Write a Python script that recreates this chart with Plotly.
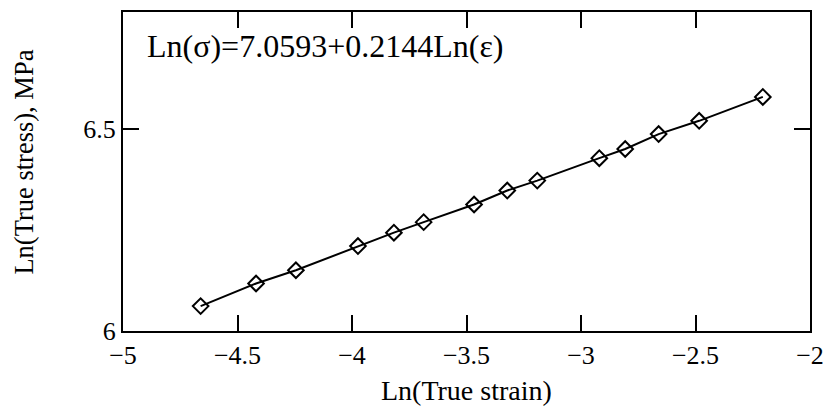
import plotly.graph_objects as go

ln_strain = [-4.661, -4.419, -4.245, -3.974, -3.817, -3.687, -3.467,
             -3.322, -3.191, -2.920, -2.807, -2.661, -2.484, -2.206]
ln_stress = [6.0617, 6.1177, 6.1505, 6.2104, 6.2435, 6.2696, 6.3133,
             6.3478, 6.3725, 6.4280, 6.4507, 6.4877, 6.5205, 6.5797]

x_ticks = [-5, -4.5, -4, -3.5, -3, -2.5, -2]
x_ticktext = ["\u22125", "\u22124.5", "\u22124", "\u22123.5", "\u22123", "\u22122.5", "\u22122"]
y_ticks = [6, 6.5]
y_ticktext = ["6", "6.5"]

equation = "Ln(\u03c3)=7.0593+0.2144Ln(\u03b5)"
x_title = "Ln(True strain)"
y_title = "Ln(True stress), MPa"

FONT = "Liberation Serif, Times New Roman, serif"

fig = go.Figure()
fig.add_trace(go.Scatter(
    x=ln_strain, y=ln_stress, mode="lines+markers",
    line=dict(color="black", width=2),
    marker=dict(symbol="diamond-open", size=12, color="black",
                line=dict(color="black", width=2)),
    showlegend=False,
))

axis_common = dict(
    showline=True, linecolor="black", linewidth=2, mirror="ticks",
    ticks="inside", ticklen=16, tickwidth=2, tickcolor="black",
    showgrid=False, zeroline=False,
    tickfont=dict(family=FONT, size=26, color="black"),
)

fig.update_xaxes(range=[-5, -2], tickvals=x_ticks, ticktext=x_ticktext, **axis_common)
fig.update_yaxes(range=[6, 6.79], tickvals=y_ticks, ticktext=y_ticktext, **axis_common)

fig.add_annotation(text=equation, xref="paper", yref="paper", x=0.032, y=0.893,
                   xanchor="left", yanchor="middle", showarrow=False,
                   font=dict(family=FONT, size=32, color="black"))
fig.add_annotation(text=x_title, xref="paper", yref="paper", x=0.5, y=0,
                   yshift=-59, xanchor="center", yanchor="middle", showarrow=False,
                   font=dict(family=FONT, size=28, color="black"))
fig.add_annotation(text=y_title, xref="paper", yref="paper", x=0, y=0.528,
                   xshift=-99, xanchor="center", yanchor="middle", showarrow=False,
                   textangle=-90,
                   font=dict(family=FONT, size=26.5, color="black"))

fig.update_layout(
    width=834, height=409,
    margin=dict(l=123, r=20, t=10, b=78),
    plot_bgcolor="white", paper_bgcolor="white",
    font=dict(family=FONT, color="black"),
)

fig.write_html("out.html", config={"displayModeBar": False},
               post_script="document.body.style.margin='0';")
